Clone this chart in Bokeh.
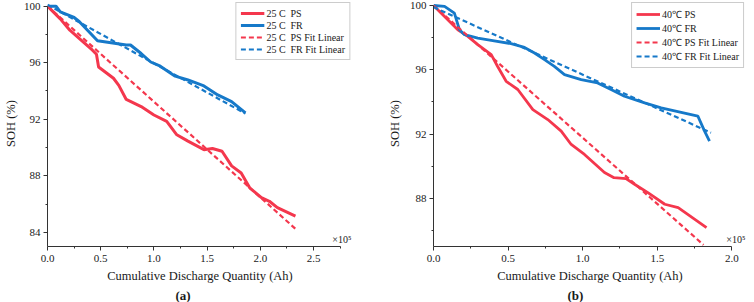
from bokeh.plotting import figure
from bokeh.layouts import row
from bokeh.models import (FixedTicker, NumeralTickFormatter, Legend, LegendItem,
                          Label, Range1d, Title)
from bokeh.embed import file_html
from bokeh.resources import INLINE

# ---------------- data (x in 1e5 Ah, SOH in %) ----------------
a_ps_x = [0, 0.12, 0.21, 0.30, 0.42, 0.46, 0.48, 0.62, 0.67, 0.74, 0.88, 1.00, 1.12,
          1.215, 1.32, 1.47, 1.55, 1.64, 1.73, 1.82, 1.90, 2.01, 2.085, 2.16, 2.33]
a_ps_y = [100, 99.1, 98.3, 97.7, 96.9, 96.6, 95.7, 94.9, 94.4, 93.4, 92.9, 92.3, 91.85,
          90.9, 90.45, 89.85, 89.93, 89.74, 88.7, 88.2, 87.15, 86.45, 86.2, 85.75, 85.15]
a_fr_x = [0, 0.08, 0.12, 0.25, 0.30, 0.47, 0.74, 0.78, 0.88, 0.97, 1.06, 1.14, 1.20,
          1.32, 1.47, 1.60, 1.73, 1.86]
a_fr_y = [100, 100, 99.6, 99.2, 98.9, 97.55, 97.25, 97.25, 96.65, 96.05, 95.75, 95.35,
          95.05, 94.78, 94.36, 93.72, 93.25, 92.45]
a_ps_fit_x = [0, 2.33]
a_ps_fit_y = [100.0, 84.25]
a_fr_fit_x = [0, 1.86]
a_fr_fit_y = [100.1, 92.4]

b_ps_x = [0, 0.163, 0.23, 0.297, 0.387, 0.43, 0.487, 0.565, 0.666, 0.766, 0.856, 0.923,
          1.012, 1.146, 1.21, 1.29, 1.35, 1.437, 1.55, 1.64, 1.83]
b_ps_y = [100, 98.49, 98.08, 97.56, 96.94, 96.2, 95.28, 94.77, 93.52, 92.9, 92.18, 91.35,
          90.73, 89.6, 89.28, 89.22, 88.86, 88.35, 87.63, 87.42, 86.18]
b_fr_x = [0, 0.074, 0.14, 0.174, 0.208, 0.297, 0.387, 0.52, 0.61, 0.677, 0.744, 0.81,
          0.878, 0.99, 1.10, 1.19, 1.28, 1.415, 1.526, 1.772, 1.817, 1.85]
b_fr_y = [100, 99.94, 99.52, 98.49, 98.18, 97.97, 97.83, 97.62, 97.39, 97.04, 96.63,
          96.21, 95.7, 95.39, 95.18, 94.77, 94.35, 93.94, 93.63, 93.11, 92.18, 91.56]
b_ps_fit_x = [0, 1.81]
b_ps_fit_y = [100.0, 85.1]
b_fr_fit_x = [0, 1.86]
b_fr_fit_y = [99.9, 92.08]

a_labels = ["25 C  PS", "25 C  FR", "25 C  PS Fit Linear", "25 C  FR Fit Linear"]
b_labels = ["40\u2103 PS", "40\u2103 FR", "40\u2103 PS Fit Linear", "40\u2103 FR Fit Linear"]
x_title = "Cumulative Discharge Quantity (Ah)"
y_title = "SOH (%)"
scale_note = "\u00d710\u2075"

a_xticks = [0, 0.5, 1.0, 1.5, 2.0, 2.5]
a_xminor = [0.25, 0.75, 1.25, 1.75, 2.25, 2.75]
a_yticks = [84, 88, 92, 96, 100]
a_yminor = [86, 90, 94, 98]
b_xticks = [0, 0.5, 1.0, 1.5, 2.0]
b_xminor = [0.25, 0.75, 1.25, 1.75]
b_yticks = [88, 92, 96, 100]
b_yminor = [86, 90, 94, 98]

RED = "#F4374D"
BLUE = "#1679C9"
FONT = "Liberation Serif"
TXT = "#1a1a1a"


def panel(ps_x, ps_y, fr_x, fr_y, psf_x, psf_y, frf_x, frf_y, labels,
          xr, yr, xb, yb, xt, xm, yt, ym, bl, br, ylab_standoff,
          tag, tag_off, solid_w):
    p = figure(width=377, height=302, output_backend="svg", toolbar_location=None,
               x_range=Range1d(*xr), y_range=Range1d(*yr),
               min_border_left=bl, min_border_right=br, min_border_top=0,
               min_border_bottom=55)
    p.outline_line_color = None
    p.xgrid.visible = False
    p.ygrid.visible = False
    p.background_fill_color = "white"
    p.border_fill_color = "white"

    r1 = p.line(ps_x, ps_y, line_color=RED, line_width=solid_w)
    r2 = p.line(fr_x, fr_y, line_color=BLUE, line_width=solid_w)
    r3 = p.line(psf_x, psf_y, line_color=RED, line_width=2.2, line_dash="5 3")
    r4 = p.line(frf_x, frf_y, line_color=BLUE, line_width=2.2, line_dash="5 3")

    for ax in (p.xaxis[0], p.yaxis[0]):
        ax.axis_line_color = "#333333"
        ax.axis_line_width = 1
        ax.major_tick_line_color = "#333333"
        ax.minor_tick_line_color = "#333333"
        ax.major_tick_in = 0
        ax.major_tick_out = 4
        ax.minor_tick_in = 0
        ax.minor_tick_out = 2
        ax.major_label_text_font = FONT
        ax.major_label_text_font_size = "11px"
        ax.major_label_text_color = TXT
        ax.axis_label_text_font = FONT
        ax.axis_label_text_font_size = "12.5px"
        ax.axis_label_text_font_style = "normal"
        ax.axis_label_text_color = TXT

    p.xaxis[0].ticker = FixedTicker(ticks=xt, minor_ticks=xm)
    p.xaxis[0].formatter = NumeralTickFormatter(format="0.0")
    p.xaxis[0].bounds = xb
    p.xaxis[0].major_label_standoff = 4
    p.xaxis[0].axis_label = x_title
    p.xaxis[0].axis_label_standoff = 4

    p.yaxis[0].ticker = FixedTicker(ticks=yt, minor_ticks=ym)
    p.yaxis[0].bounds = yb
    p.yaxis[0].major_label_standoff = 3
    p.yaxis[0].axis_label = y_title
    p.yaxis[0].axis_label_standoff = ylab_standoff

    leg = Legend(items=[LegendItem(label=labels[0], renderers=[r1]),
                        LegendItem(label=labels[1], renderers=[r2]),
                        LegendItem(label=labels[2], renderers=[r3]),
                        LegendItem(label=labels[3], renderers=[r4])],
                 location="top_right")
    leg.border_line_color = "#9a9a9a"
    leg.border_line_width = 1
    leg.background_fill_color = "white"
    leg.background_fill_alpha = 1
    leg.label_text_font = FONT
    leg.label_text_font_size = "10px"
    leg.label_text_color = TXT
    leg.glyph_width = 24
    leg.glyph_height = 12
    leg.label_height = 12
    leg.label_standoff = 2
    leg.spacing = 0
    leg.padding = 4
    leg.margin = 2
    p.add_layout(leg)

    # scale note kept inside the frame so it is not clipped
    p.add_layout(Label(x=xr[1], y=yr[0], text=scale_note, text_font=FONT,
                       text_font_size="10px", text_color=TXT, text_align="right",
                       text_baseline="bottom", x_offset=-1, y_offset=2))

    t2 = Title(text=tag, align="left", offset=tag_off, text_font=FONT,
               text_font_size="13px", text_font_style="bold", text_color=TXT,
               standoff=0)
    p.add_layout(t2, "below")
    return p


pa = panel(a_ps_x, a_ps_y, a_fr_x, a_fr_y, a_ps_fit_x, a_ps_fit_y, a_fr_fit_x, a_fr_fit_y,
           a_labels, xr=(0, 2.866), yr=(83, 100.4), xb=(0, 2.75), yb=(83, 100),
           xt=a_xticks, xm=a_xminor, yt=a_yticks, ym=a_yminor, bl=39, br=25,
           ylab_standoff=3, tag="(a)", tag_off=128, solid_w=3)
pb = panel(b_ps_x, b_ps_y, b_fr_x, b_fr_y, b_ps_fit_x, b_ps_fit_y, b_fr_fit_x, b_fr_fit_y,
           b_labels, xr=(0, 2.098), yr=(85, 100.31), xb=(0, 2.0), yb=(85, 100),
           xt=b_xticks, xm=b_xminor, yt=b_yticks, ym=b_yminor, bl=56, br=8,
           ylab_standoff=5, tag="(b)", tag_off=134, solid_w=2.8)

layout = row(pa, pb, spacing=0)
open("out.html", "w").write(file_html(layout, INLINE))
